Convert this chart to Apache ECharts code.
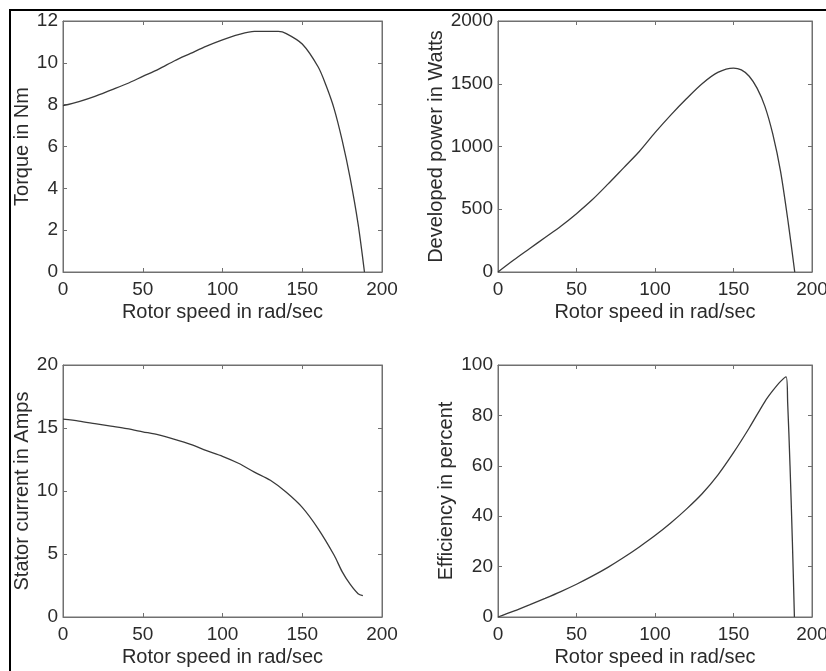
<!DOCTYPE html>
<html>
<head>
<meta charset="utf-8">
<title>Induction motor characteristics</title>
<style>
  html, body { margin: 0; padding: 0; background: #fff; }
  #chart { width: 826px; height: 671px; }
</style>
<script src="https://cdn.jsdelivr.net/npm/echarts@6/dist/echarts.min.js"></script>
</head>
<body>
<div id="chart"></div>
<script>
// rotor speed (rad/sec) and the values
var speedTorque = [0, 10, 20, 30, 40, 50, 60, 70, 80, 90, 100, 110, 120, 130, 135, 140, 150, 160, 165, 170, 175, 180, 185, 189];
var torque      = [7.95, 8.15, 8.4, 8.7, 9.0, 9.35, 9.7, 10.1, 10.45, 10.8, 11.1, 11.35, 11.5, 11.5, 11.5, 11.4, 10.9, 9.8, 8.9, 7.8, 6.3, 4.5, 2.3, 0];

var speedPower = [0, 10, 20, 30, 40, 50, 60, 70, 80, 90, 100, 110, 120, 130, 140, 150, 155, 160, 165, 170, 175, 180, 185, 189];
var power      = [0, 95, 185, 275, 365, 465, 575, 700, 830, 960, 1110, 1250, 1380, 1500, 1590, 1625, 1610, 1560, 1465, 1320, 1100, 800, 380, 0];

var speedCurrent = [0, 10, 20, 30, 40, 50, 60, 70, 80, 90, 100, 110, 120, 130, 140, 150, 160, 170, 175, 180, 185, 188];
var current      = [15.7, 15.55, 15.35, 15.15, 14.95, 14.7, 14.45, 14.1, 13.7, 13.2, 12.75, 12.2, 11.5, 10.85, 9.9, 8.7, 7.0, 4.9, 3.6, 2.6, 1.85, 1.7];

var speedEff   = [0, 10, 20, 30, 40, 50, 60, 70, 80, 90, 100, 110, 120, 130, 140, 150, 160, 170, 175, 180, 183.5, 184.5, 186, 187.5, 188.8];
var efficiency = [0, 2.3, 4.8, 7.4, 10.1, 13.0, 16.2, 19.7, 23.6, 27.8, 32.3, 37.3, 42.8, 48.9, 56.3, 65.2, 75.0, 85.5, 89.8, 93.5, 95.3, 85, 60, 30, 0];

var xTicks = { min: 0, max: 200, interval: 50 };
var panels = [
  { name: 'Torque in Nm', x: speedTorque, y: torque, min: 0, max: 12, interval: 2, gap: 24 },
  { name: 'Developed power in Watts', x: speedPower, y: power, min: 0, max: 2000, interval: 500, gap: 45 },
  { name: 'Stator current in Amps', x: speedCurrent, y: current, min: 0, max: 20, interval: 5, gap: 24 },
  { name: 'Efficiency in percent', x: speedEff, y: efficiency, min: 0, max: 100, interval: 20, gap: 42 }
];

var boxes = [
  { left: 63, top: 21, width: 319, height: 251 },
  { left: 498, top: 21, width: 314, height: 251 },
  { left: 63, top: 365, width: 319, height: 252 },
  { left: 498, top: 365, width: 314, height: 252 }
];

var font = 'Liberation Sans, Arial, Helvetica, sans-serif';
var ink = '#2b2b2b';
var boxColor = '#707070';

function pairs(xs, ys) {
  var out = [];
  for (var i = 0; i < xs.length; i++) out.push([xs[i], ys[i]]);
  return out;
}

function plain(v) { return String(v); }

var grids = [], xAxes = [], yAxes = [], series = [];
panels.forEach(function (p, i) {
  var b = boxes[i];
  grids.push({
    left: b.left, top: b.top, width: b.width, height: b.height,
    show: true, borderColor: boxColor, borderWidth: 1, backgroundColor: '#fff',
    outerBoundsMode: 'none', containLabel: false
  });
  var tick = { show: true, inside: true, length: 4, lineStyle: { color: boxColor } };
  var line = { show: true, onZero: false, lineStyle: { color: boxColor } };
  // bottom x axis with labels
  xAxes.push({
    gridIndex: i, type: 'value', position: 'bottom',
    min: xTicks.min, max: xTicks.max, interval: xTicks.interval,
    name: 'Rotor speed in rad/sec', nameLocation: 'middle', nameGap: 30,
    nameTextStyle: { fontFamily: font, fontSize: 20, color: ink },
    axisLine: line, axisTick: tick,
    axisLabel: { fontFamily: font, fontSize: 19, color: ink, margin: 8, formatter: plain },
    splitLine: { show: false }
  });
  // top x axis, ticks only
  xAxes.push({
    gridIndex: i, type: 'value', position: 'top',
    min: xTicks.min, max: xTicks.max, interval: xTicks.interval,
    axisLine: line, axisTick: tick,
    axisLabel: { show: false }, splitLine: { show: false }
  });
  yAxes.push({
    gridIndex: i, type: 'value', position: 'left',
    min: p.min, max: p.max, interval: p.interval,
    name: p.name, nameLocation: 'middle', nameGap: p.gap,
    nameTextStyle: { fontFamily: font, fontSize: 20, color: ink },
    axisLine: line, axisTick: tick,
    axisLabel: { fontFamily: font, fontSize: 19, color: ink, margin: 5, formatter: plain },
    splitLine: { show: false }
  });
  yAxes.push({
    gridIndex: i, type: 'value', position: 'right',
    min: p.min, max: p.max, interval: p.interval,
    axisLine: line, axisTick: tick,
    axisLabel: { show: false }, splitLine: { show: false }
  });
  series.push({
    type: 'line',
    xAxisIndex: i * 2, yAxisIndex: i * 2,
    data: pairs(p.x, p.y),
    showSymbol: false, smooth: 0.3,
    lineStyle: { color: '#3a3a3a', width: 1.3 },
    animation: false
  });
});

var chart = echarts.init(document.getElementById('chart'));
chart.setOption({
  backgroundColor: '#fff',
  animation: false,
  grid: grids,
  xAxis: xAxes,
  yAxis: yAxes,
  series: series,
  graphic: [
    { type: 'line', shape: { x1: 9, y1: 10, x2: 826, y2: 10 }, style: { stroke: '#000', lineWidth: 2 } },
    { type: 'line', shape: { x1: 10, y1: 9, x2: 10, y2: 671 }, style: { stroke: '#000', lineWidth: 2 } }
  ]
});
</script>
</body>
</html>
